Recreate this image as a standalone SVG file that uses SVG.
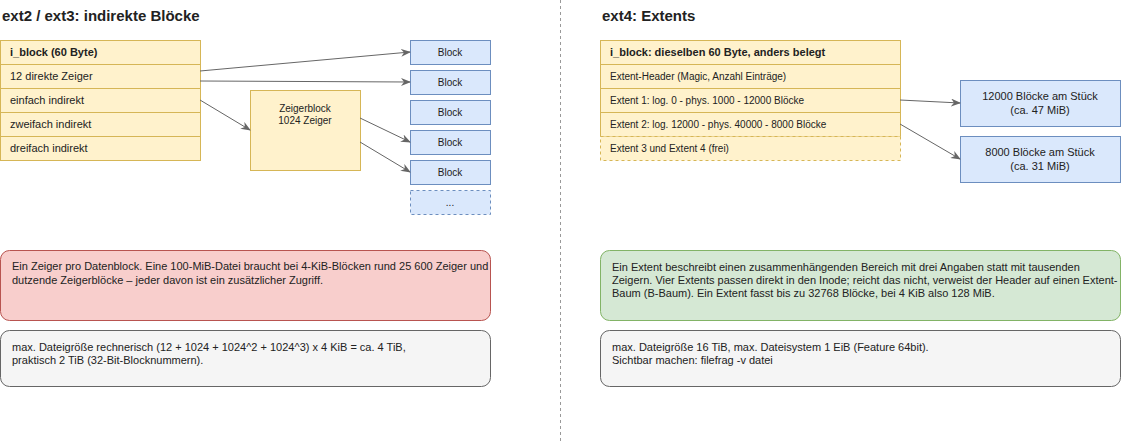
<svg xmlns="http://www.w3.org/2000/svg" width="1122" height="443" viewBox="0 0 1122 443">
<style>
text{font-family:"Liberation Sans",Arial,sans-serif;fill:#222}
.y{fill:#fff2cc;stroke:#d6b656}
.b{fill:#dae8fc;stroke:#6c8ebf}
.t{font-size:11px}
.s{font-size:10px}
.h{font-size:15px;font-weight:bold}
.c line{stroke:#666;stroke-width:1;marker-end:url(#a)}
</style>
<defs><marker id="a" markerWidth="10" markerHeight="8" refX="9" refY="4" orient="auto" markerUnits="userSpaceOnUse"><path d="M0,0L10,4L0,8L3,4z" fill="#666"/></marker></defs>
<rect width="1122" height="443" fill="#fff"/>
<text class="h" x="2" y="21">ext2 / ext3: indirekte Blöcke</text>
<text class="h" x="602" y="21">ext4: Extents</text>
<line x1="560.5" y1="0" x2="560.5" y2="443" stroke="#999" stroke-dasharray="3,3"/>
<g id="iblock">
<rect class="y" x="0.5" y="40.5" width="200" height="24"/><text class="t" x="10" y="56" font-weight="bold">i_block (60 Byte)</text>
<rect class="y" x="0.5" y="64.5" width="200" height="24"/><text class="t" x="10" y="80">12 direkte Zeiger</text>
<rect class="y" x="0.5" y="88.5" width="200" height="24"/><text class="t" x="10" y="104">einfach indirekt</text>
<rect class="y" x="0.5" y="112.5" width="200" height="24"/><text class="t" x="10" y="128">zweifach indirekt</text>
<rect class="y" x="0.5" y="136.5" width="200" height="24"/><text class="t" x="10" y="152">dreifach indirekt</text>
</g>
<g id="zeigerblock"><rect class="y" x="250.5" y="90.5" width="110" height="80"/><text class="s" x="305" y="112" text-anchor="middle">Zeigerblock</text><text class="s" x="305" y="124" text-anchor="middle">1024 Zeiger</text></g>
<g id="blocks">
<rect class="b" x="410.5" y="40.5" width="80" height="24"/><text class="s" x="450" y="56" text-anchor="middle">Block</text>
<rect class="b" x="410.5" y="70.5" width="80" height="24"/><text class="s" x="450" y="86" text-anchor="middle">Block</text>
<rect class="b" x="410.5" y="100.5" width="80" height="24"/><text class="s" x="450" y="116" text-anchor="middle">Block</text>
<rect class="b" x="410.5" y="130.5" width="80" height="24"/><text class="s" x="450" y="146" text-anchor="middle">Block</text>
<rect class="b" x="410.5" y="160.5" width="80" height="24"/><text class="s" x="450" y="176" text-anchor="middle">Block</text>
<rect class="b" x="410.5" y="190.5" width="80" height="24" stroke-dasharray="3,3"/><text class="s" x="450" y="206" text-anchor="middle">...</text>
</g>
<g id="ext4block">
<rect class="y" x="600.5" y="40.5" width="300" height="24"/><text class="t" x="610" y="56" font-weight="bold">i_block: dieselben 60 Byte, anders belegt</text>
<rect class="y" x="600.5" y="64.5" width="300" height="24"/><text class="s" x="610" y="80">Extent-Header (Magic, Anzahl Einträge)</text>
<rect class="y" x="600.5" y="88.5" width="300" height="24"/><text class="s" x="610" y="104">Extent 1: log. 0 - phys. 1000 - 12000 Blöcke</text>
<rect class="y" x="600.5" y="112.5" width="300" height="24"/><text class="s" x="610" y="128">Extent 2: log. 12000 - phys. 40000 - 8000 Blöcke</text>
<rect class="y" x="600.5" y="136.5" width="300" height="24" stroke-dasharray="3,3"/><text class="s" x="610" y="152">Extent 3 und Extent 4 (frei)</text>
</g>
<g id="run1"><rect class="b" x="960.5" y="80.5" width="160" height="46"/><text class="t" x="1040" y="100" text-anchor="middle">12000 Blöcke am Stück</text><text class="t" x="1040" y="114" text-anchor="middle">(ca. 47 MiB)</text></g>
<g id="run2"><rect class="b" x="960.5" y="136.5" width="160" height="46"/><text class="t" x="1040" y="156" text-anchor="middle">8000 Blöcke am Stück</text><text class="t" x="1040" y="170" text-anchor="middle">(ca. 31 MiB)</text></g>
<g id="note1"><rect x="0.5" y="250.5" width="490" height="70" rx="9" fill="#f8cecc" stroke="#b85450"/><text class="t" x="12" y="270">Ein Zeiger pro Datenblock. Eine 100-MiB-Datei braucht bei 4-KiB-Blöcken rund 25 600 Zeiger und</text><text class="t" x="12" y="284">dutzende Zeigerblöcke – jeder davon ist ein zusätzlicher Zugriff.</text></g>
<g id="note2"><rect x="0.5" y="330.5" width="490" height="56" rx="9" fill="#f5f5f5" stroke="#666"/><text class="t" x="12" y="351">max. Dateigröße rechnerisch (12 + 1024 + 1024^2 + 1024^3) x 4 KiB = ca. 4 TiB,</text><text class="t" x="12" y="364">praktisch 2 TiB (32-Bit-Blocknummern).</text></g>
<g id="note3"><rect x="600.5" y="250.5" width="520" height="70" rx="9" fill="#d5e8d4" stroke="#82b366"/><text class="t" x="612" y="271">Ein Extent beschreibt einen zusammenhängenden Bereich mit drei Angaben statt mit tausenden</text><text class="t" x="612" y="284">Zeigern. Vier Extents passen direkt in den Inode; reicht das nicht, verweist der Header auf einen Extent-</text><text class="t" x="612" y="297">Baum (B-Baum). Ein Extent fasst bis zu 32768 Blöcke, bei 4 KiB also 128 MiB.</text></g>
<g id="note4"><rect x="600.5" y="330.5" width="520" height="56" rx="9" fill="#f5f5f5" stroke="#666"/><text class="t" x="612" y="351">max. Dateigröße 16 TiB, max. Dateisystem 1 EiB (Feature 64bit).</text><text class="t" x="612" y="364">Sichtbar machen: filefrag -v datei</text></g>
<g class="c" id="connectors">
<line x1="200" y1="71" x2="410" y2="52"/>
<line x1="200" y1="81" x2="410" y2="82"/>
<line x1="200" y1="100" x2="250" y2="130"/>
<line x1="360" y1="118" x2="410" y2="142"/>
<line x1="360" y1="142" x2="410" y2="172"/>
<line x1="900" y1="100" x2="960" y2="103"/>
<line x1="900" y1="124" x2="960" y2="159"/>
</g>
</svg>
